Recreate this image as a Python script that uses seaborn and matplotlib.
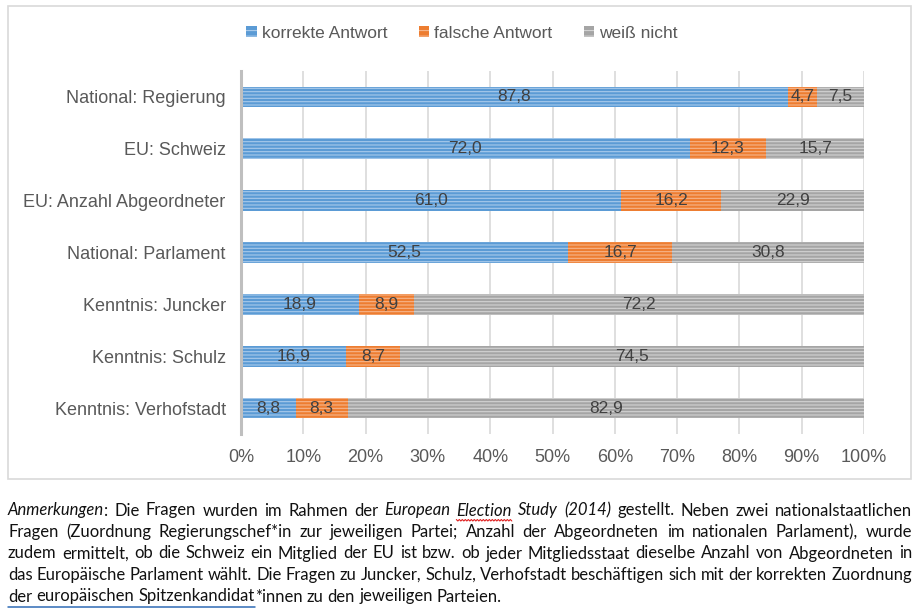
import numpy as np
import pandas as pd
import seaborn as sns
import matplotlib
matplotlib.use("Agg")
import matplotlib.pyplot as plt
from matplotlib.patches import Rectangle, Patch
from matplotlib.lines import Line2D


questions = ["National: Regierung", "EU: Schweiz", "EU: Anzahl Abgeordneter",
             "National: Parlament", "Kenntnis: Juncker", "Kenntnis: Schulz",
             "Kenntnis: Verhofstadt"]
korrekt = [87.8, 72.0, 61.0, 52.5, 18.9, 16.9, 8.8]
falsch = [4.7, 12.3, 16.2, 16.7, 8.9, 8.7, 8.3]
weiss_nicht = [7.5, 15.7, 22.9, 30.8, 72.2, 74.5, 82.9]
series_names = ["korrekte Antwort", "falsche Antwort", "weiß nicht"]
x_ticks = list(range(0, 101, 10))

note_lines = [
    [("Anmerkungen", "italic"), (": Die Fragen wurden im Rahmen der ", "normal"),
     ("European ", "italic"), ("Election", "wavy"), (" Study (2014)", "italic"),
     (" gestellt. Neben zwei nationalstaatlichen", "normal")],
    [("Fragen (Zuordnung Regierungschef*in zur jeweiligen Partei; Anzahl der "
      "Abgeordneten im nationalen Parlament), wurde", "normal")],
    [("zudem ermittelt, ob die Schweiz ein Mitglied der EU ist bzw. ob jeder "
      "Mitgliedsstaat dieselbe Anzahl von Abgeordneten in", "normal")],
    [("das Europäische Parlament wählt. Die Fragen zu Juncker, Schulz, "
      "Verhofstadt beschäftigen sich mit der korrekten Zuordnung", "normal")],
    [("der europäischen Spitzenkandidat", "ul"),
     ("*innen zu den jeweiligen Parteien.", "normal")],
]

colors = ["#5B9BD5", "#ED7D31", "#A5A5A5"]
stripe_colors = ["#A8CAEB", "#F6B58A", "#D2D2D2"]

W, H = 919, 613


def fx(px):
    return px / W


def fy(py):
    return 1 - py / H


def split_words(chunks):
    words, cur = [], []
    for text, style in chunks:
        parts = text.split(" ")
        for i, p in enumerate(parts):
            if i > 0 and cur:
                words.append(cur)
                cur = []
            if p:
                cur.append((p, style))
    if cur:
        words.append(cur)
    return words


def draw_note(fig, lines, x0, x1, baselines, size):
    renderer = fig.canvas.get_renderer()
    props = dict(family=["Lato", "DejaVu Sans"], fontsize=size, color="#111111",
                 va="baseline", ha="left", transform=fig.transFigure)
    space = fig.text(0, 0, "a a", **props)
    w2 = fig.text(0, 0, "aa", **props)
    space_w = space.get_window_extent(renderer).width - w2.get_window_extent(renderer).width
    space.remove()
    w2.remove()
    decorations = []
    for li, (chunks, base) in enumerate(zip(lines, baselines)):
        words = split_words(chunks)
        placed = []
        widths = []
        for word in words:
            pieces = []
            ww = 0
            for text, style in word:
                style_kw = "italic" if style in ("italic", "wavy") else "normal"
                t = fig.text(0, fy(base), text, style=style_kw, **props)
                pw = t.get_window_extent(renderer).width
                pieces.append((t, pw, style))
                ww += pw
            placed.append(pieces)
            widths.append(ww)
        last = li == len(lines) - 1
        if last or len(words) < 2:
            gap = space_w
        else:
            gap = (x1 - x0 - sum(widths)) / (len(words) - 1)
        x = x0
        for pieces, ww in zip(placed, widths):
            for t, pw, style in pieces:
                t.set_x(fx(x))
                if style in ("ul", "wavy"):
                    decorations.append((style, x, x + pw, base))
                x += pw
            x += gap
    # merge underline pieces into one line
    ul = [d for d in decorations if d[0] == "ul"]
    if ul:
        base = ul[0][3]
        fig.add_artist(Line2D([fx(ul[0][1]), fx(ul[-1][2])], [fy(base + 5.5)] * 2,
                              transform=fig.transFigure, color="#2F6BB5", lw=1.1))
    for style, a, b, base in decorations:
        if style == "wavy":
            xs = np.arange(a, b + 1, 1.5)
            ys = base + 4 + np.where(np.arange(len(xs)) % 2 == 0, 0, 1.5)
            fig.add_artist(Line2D(fx(xs), fy(ys), transform=fig.transFigure,
                                  color="#E02020", lw=0.8))


sns.set_style("white")
plt.rcParams["font.family"] = ["Liberation Sans", "DejaVu Sans"]
plt.rcParams["hatch.linewidth"] = 0.8

df = pd.DataFrame({"frage": questions, "korrekt": korrekt,
                   "falsch": falsch, "weiss": weiss_nicht})
total = df[["korrekt", "falsch", "weiss"]].sum(axis=1)
for col in ["korrekt", "falsch", "weiss"]:
    df[col + "_pct"] = df[col] / total * 100
df["cum1"] = df["korrekt_pct"]
df["cum2"] = df["cum1"] + df["falsch_pct"]
df["cum3"] = df["cum2"] + df["weiss_pct"]

fig = plt.figure(figsize=(9.19, 6.13), dpi=100)
ax = fig.add_axes([fx(241), fy(434), fx(864) - fx(241), fy(71) - fy(434)])

# stacked bars drawn back to front
for cum, col, stripe in zip(["cum3", "cum2", "cum1"], colors[::-1], stripe_colors[::-1]):
    sns.barplot(data=df, x=cum, y="frage", orient="h", color=col, saturation=1,
                edgecolor=stripe, linewidth=0, hatch="-----", width=0.4, ax=ax,
                zorder=3)

starts = [np.zeros(len(df)), df["cum1"].values, df["cum2"].values]
ends = [df["cum1"].values, df["cum2"].values, df["cum3"].values]
raw = [korrekt, falsch, weiss_nicht]
for s, e, vals in zip(starts, ends, raw):
    for i, v in enumerate(vals):
        ax.text((s[i] + e[i]) / 2, i, f"{v:.1f}".replace(".", ","), ha="center",
                va="center", fontsize=12.5, color="#404040", zorder=5)

ax.set_xlim(0, 100)
ax.set_ylim(6.5, -0.5)
ax.set_xticks(x_ticks)
ax.set_xticklabels([f"{t}%" for t in x_ticks])
ax.set_xlabel("")
ax.set_ylabel("")
ax.xaxis.grid(True, color="#D9D9D9", lw=1.2)
ax.set_axisbelow(True)
for side in ["top", "right", "bottom"]:
    ax.spines[side].set_visible(False)
ax.spines["left"].set_color("#BFBFBF")
ax.spines["left"].set_linewidth(2.2)
ax.spines["left"].set_zorder(4)
ax.tick_params(axis="y", length=0, pad=11, labelsize=13, labelcolor="#595959")
ax.tick_params(axis="x", length=0, pad=11, labelsize=13, labelcolor="#595959")

handles = [Patch(facecolor=c, edgecolor=s, linewidth=0, hatch="---")
           for c, s in zip(colors, stripe_colors)]
fig.legend(handles, series_names, loc="center", bbox_to_anchor=(fx(462), fy(33)),
           ncol=3, frameon=False, fontsize=12.5, handlelength=0.6, handleheight=0.6,
           handletextpad=0.3, columnspacing=1.8, labelcolor="#595959")

fig.add_artist(Rectangle((fx(7.5), fy(478.5)), fx(911) - fx(7.5), fy(6) - fy(478.5),
                         transform=fig.transFigure, fill=False,
                         edgecolor="#D9D9D9", lw=1.2))

draw_note(fig, note_lines, 8, 912, [515.5, 537, 558.5, 580, 601.5], 12.0)

fig.savefig("out.png", dpi=100)
